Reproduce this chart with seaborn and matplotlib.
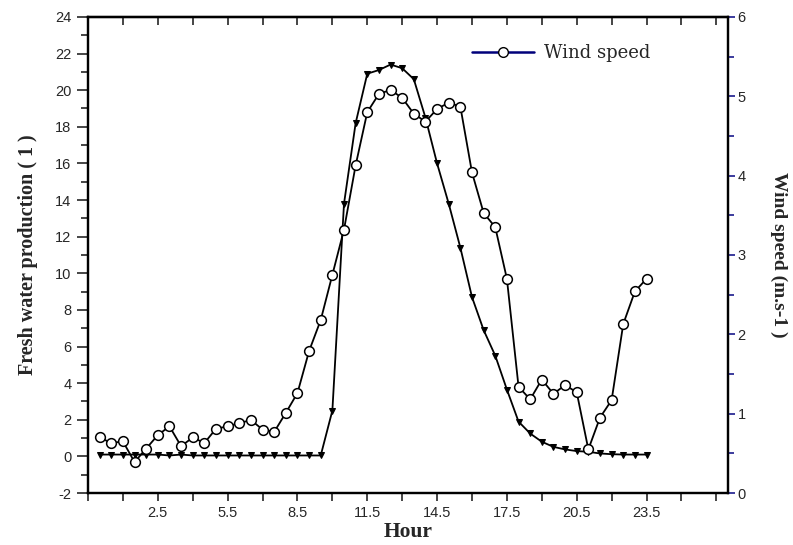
import numpy as np
import pandas as pd
import matplotlib
matplotlib.use("Agg")
import matplotlib.pyplot as plt
from matplotlib.lines import Line2D
from matplotlib.ticker import MultipleLocator, FixedLocator, NullFormatter
import seaborn as sns

# ---- data ----
hours = [0.0, 0.5, 1.0, 1.5, 2.0, 2.5, 3.0, 3.5, 4.0, 4.5, 5.0, 5.5, 6.0, 6.5, 7.0, 7.5,
         8.0, 8.5, 9.0, 9.5, 10.0, 10.5, 11.0, 11.5, 12.0, 12.5, 13.0, 13.5, 14.0, 14.5,
         15.0, 15.5, 16.0, 16.5, 17.0, 17.5, 18.0, 18.5, 19.0, 19.5, 20.0, 20.5, 21.0,
         21.5, 22.0, 22.5, 23.0, 23.5]

fresh_water = [0.1, 0.1, 0.1, 0.1, 0.1, 0.1, 0.05, 0.1, 0.05, 0.05, 0.05, 0.05, 0.05, 0.05,
               0.05, 0.05, 0.05, 0.05, 0.05, 0.05, 2.5, 13.8, 18.2, 20.9, 21.1, 21.4, 21.2,
               20.6, 18.5, 16.0, 13.8, 11.4, 8.7, 6.9, 5.5, 3.65, 1.9, 1.25, 0.8, 0.52,
               0.38, 0.29, 0.25, 0.16, 0.12, 0.1, 0.1, 0.1]

wind_speed = [0.70, 0.63, 0.65, 0.39, 0.56, 0.73, 0.84, 0.59, 0.70, 0.63, 0.81, 0.84,
              0.88, 0.92, 0.80, 0.77, 1.01, 1.26, 1.79, 2.18, 2.75, 3.32, 4.13, 4.80,
              5.03, 5.08, 4.98, 4.78, 4.68, 4.84, 4.92, 4.87, 4.04, 3.53, 3.35, 2.70,
              1.34, 1.18, 1.43, 1.25, 1.36, 1.27, 0.55, 0.95, 1.17, 2.13, 2.54, 2.70]

x_tick_labels = ["2.5", "5.5", "8.5", "11.5", "14.5", "17.5", "20.5", "23.5"]
left_ticks = [-2, 0, 2, 4, 6, 8, 10, 12, 14, 16, 18, 20, 22, 24]
right_ticks = [0, 1, 2, 3, 4, 5, 6]

df = pd.DataFrame({"hour": hours, "fresh": fresh_water, "wind": wind_speed})

sns.set_style("ticks")
plt.rcParams["font.family"] = ["Liberation Sans", "DejaVu Sans"]

fig = plt.figure(figsize=(7.93, 5.45), dpi=100)
ax = fig.add_axes([0.111, 0.0954, 0.807, 0.8735])
ax2 = ax.twinx()

sns.lineplot(data=df, x="hour", y="fresh", ax=ax, color="black", linewidth=1.3,
             marker="v", markersize=5, markerfacecolor="black", markeredgecolor="black",
             estimator=None, sort=False)
sns.lineplot(data=df, x="hour", y="wind", ax=ax2, color="black", linewidth=1.3,
             marker="o", markersize=7, markerfacecolor="white", markeredgecolor="black",
             markeredgewidth=1.1, estimator=None, sort=False)

# axes limits
ax.set_xlim(-0.5, 27)
ax.set_ylim(-2, 24)
ax2.set_ylim(0, 6)

# x ticks
major_x = [float(s) for s in x_tick_labels]
minor_x = [-0.5, 1, 4, 7, 10, 13, 16, 19, 22, 25, 26.5]
ax.xaxis.set_major_locator(FixedLocator(major_x))
ax.set_xticklabels(x_tick_labels)
ax.xaxis.set_minor_locator(FixedLocator(minor_x))
ax.tick_params(axis="x", which="both", direction="out", length=6, width=1.2,
               labelsize=10.5, pad=3, bottom=True, top=False)

# top ticks pointing inward
sec = ax.secondary_xaxis("top")
sec.xaxis.set_major_locator(FixedLocator(major_x + minor_x))
sec.xaxis.set_major_formatter(NullFormatter())
sec.tick_params(axis="x", direction="in", length=6, width=1.2)
sec.spines["top"].set_linewidth(1.6)

# left y ticks
ax.yaxis.set_major_locator(FixedLocator(left_ticks))
ax.set_yticklabels([str(t) for t in left_ticks])
ax.yaxis.set_minor_locator(MultipleLocator(1))
ax.tick_params(axis="y", which="major", direction="out", length=8, width=1.2,
               labelsize=10.5, left=True, right=False, pad=4)
ax.tick_params(axis="y", which="minor", direction="out", length=5, width=1.2,
               left=True, right=False)

# right y ticks
ax2.yaxis.set_major_locator(FixedLocator(right_ticks))
ax2.set_yticklabels([str(t) for t in right_ticks])
ax2.yaxis.set_minor_locator(MultipleLocator(0.5))
ax2.tick_params(axis="y", which="major", direction="out", length=5, width=1.2,
                labelsize=10.5, color="#1a1a8c", pad=2)
ax2.tick_params(axis="y", which="minor", direction="out", length=4, width=1.2,
                color="#1a1a8c")

for a in (ax, ax2):
    for s in a.spines.values():
        s.set_linewidth(1.6)
        s.set_color("black")
        s.set_visible(True)

# labels
serif = ["Liberation Serif", "DejaVu Serif"]
ax.set_xlabel("Hour", family=serif, fontweight="bold", fontsize=15.5, labelpad=2)
ax.set_ylabel("Fresh water production ( 1 )", family=serif, fontweight="bold",
              fontsize=14.5, labelpad=12)
ax2.set_ylabel("Wind speed (m.s-1 )", family=serif, fontweight="bold",
               fontsize=14, rotation=270, labelpad=30)

# legend
handle = Line2D([0], [0], color="#00007a", linewidth=1.8, marker="o", markersize=7,
                markerfacecolor="white", markeredgecolor="black")
leg = ax2.legend([handle], ["Wind speed"], loc="center left",
                 bbox_to_anchor=(0.575, 0.924), frameon=False,
                 prop={"family": ["DejaVu Serif"], "size": 13},
                 handlelength=3.4, handletextpad=0.6)

fig.savefig("out.png", dpi=100)
